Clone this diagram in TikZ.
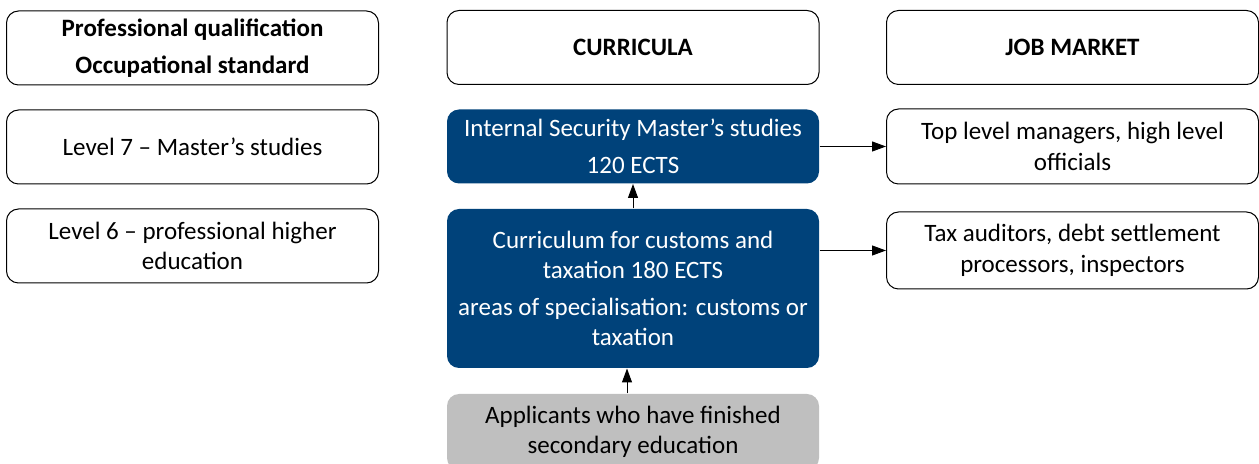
\documentclass[tikz,border=0pt]{standalone}
\usepackage{fontspec}
\setmainfont{Carlito}
\usetikzlibrary{arrows.meta}
\definecolor{navy}{RGB}{0,66,122}
\definecolor{lightgrey}{RGB}{191,191,191}
\tikzset{
  box/.style={draw,rounded corners=6pt,line width=0.5pt,align=center,
    minimum width=186pt,minimum height=37pt,inner sep=2pt},
  bluebox/.style={box,draw=none,fill=navy,text=white},
  greybox/.style={box,draw=none,fill=lightgrey},
  arr/.style={-{Triangle[length=7pt,width=5pt]},line width=0.5pt},
}
\begin{document}
\begin{tikzpicture}[x=0.5pt,y=-0.5pt,font=\fontsize{12.5}{15.2}\selectfont]
\useasboundingbox (0,0) rectangle (1259,464);
\clip (0,0) rectangle (1259,464);
% left column
\node[box,font=\fontsize{12.5}{15.2}\selectfont\bfseries] (qual) at (192.5,48) {Professional qualification\\[3.3pt]Occupational standard};
\node[box] (lvlseven) at (192.5,147) {Level 7 -- Master’s studies};
\node[box] (lvlsix) at (192.5,246) {Level 6 -- professional higher\\education};
% middle column
\node[box,font=\fontsize{12.5}{15.2}\selectfont\bfseries] (curr) at (633,47.5) {CURRICULA};
\node[bluebox] (master) at (633,146.5) {Internal Security Master’s studies\\[3.3pt]120 ECTS};
\node[bluebox,minimum height=79.5pt] (customs) at (633,288.5) {Curriculum for customs and\\taxation 180 ECTS\\[3.3pt]areas of specialisation: customs or\\taxation};
\node[greybox,minimum height=38pt] (appl) at (633,432) {Applicants who have finished\\secondary education};
% right column
\node[box,font=\fontsize{12.5}{15.2}\selectfont\bfseries] (job) at (1072.5,47.5) {JOB MARKET};
\node[box,minimum height=37.5pt] (managers) at (1072.5,146.5) {Top level managers, high level\\officials};
\node[box,minimum height=38.5pt] (auditors) at (1072.5,250.5) {Tax auditors, debt settlement\\processors, inspectors};
% arrows
\draw[arr] (customs.north) -- (master.south);
\draw[arr] ([xshift=-3pt]appl.north) -- ([xshift=-3pt]customs.south);
\draw[arr] (master.east) -- (managers.west);
\draw[arr] (auditors.west -| customs.east) -- (auditors.west);
\end{tikzpicture}
\end{document}
